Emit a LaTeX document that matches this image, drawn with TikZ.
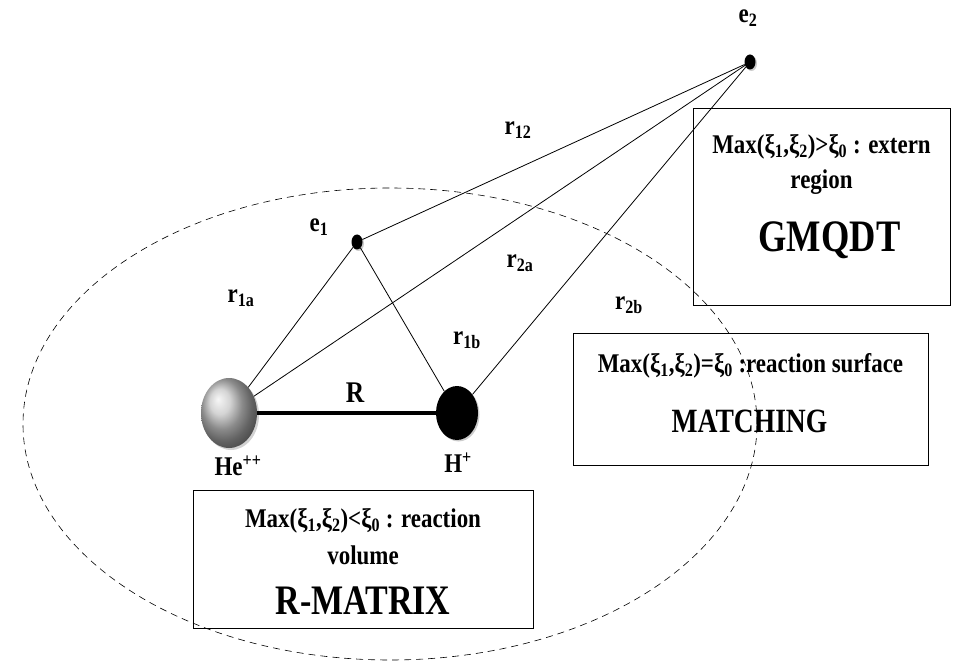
\documentclass[tikz,border=0pt]{standalone}
\usepackage{fontspec}
\setmainfont[FakeStretch=0.85]{Liberation Serif}
\newfontfamily\titlefont[FakeStretch=0.81]{Liberation Serif}
\usetikzlibrary{positioning,calc,shapes.geometric,shadows}

\begin{document}
\begin{tikzpicture}[
  x=1pt, y=-1pt,
  font=\bfseries\fontsize{27}{31}\selectfont,
  lbl/.style={font=\bfseries\fontsize{27}{31}\selectfont, inner sep=0pt},
  title/.style={font=\titlefont\bfseries\fontsize{42}{48}\selectfont, inner sep=0pt},
  region/.style={draw, line width=0.8pt, inner sep=0pt},
  line/.style={line width=0.8pt},
  dot/.style={ellipse, fill=black, inner sep=0pt, minimum width=11pt, minimum height=15pt,
    drop shadow={shadow xshift=1.5pt, shadow yshift=-1.5pt, fill=gray!40, opacity=1}},
]
\useasboundingbox (0,0) rectangle (953,668);

% --- reaction volume boundary ---
\draw[dashed, dash pattern=on 7pt off 5pt, line width=0.6pt] (390,424) ellipse [x radius=367pt, y radius=236pt];

% --- nuclei and electrons ---
\node[ellipse, ball color=gray!45, minimum width=56pt, minimum height=70pt,
  drop shadow={shadow xshift=2pt, shadow yshift=-2pt, fill=gray!35, opacity=1}] (he) at (229,413) {};
\node[dot, minimum width=42pt, minimum height=54pt] (h) at (457,413) {};
\node[dot] (e1) at (357,242) {};
\node[dot] (e2) at (750,62) {};

% --- distances ---
\draw[line width=3.5pt] (he) -- (h);
\draw[line] (he) -- (e1);
\draw[line] (h) -- (e1);
\draw[line] (he) -- (e2);
\draw[line] (h) -- (e2);
\draw[line] (e1) -- (e2);

% --- labels ---
\node[lbl] (le2) at (748,18) {e\textsubscript{2}};
\node[lbl] (le1) at (319,227) {e\textsubscript{1}};
\node[lbl] (lr12) at (518,130) {r\textsubscript{12}};
\node[lbl] (lr1a) at (241,298) {r\textsubscript{1a}};
\node[lbl] (lr2a) at (520,263) {r\textsubscript{2a}};
\node[lbl] (lr1b) at (467,340) {r\textsubscript{1b}};
\node[lbl] (lr2b) at (629,305) {r\textsubscript{2b}};
\node[lbl, font=\bfseries\fontsize{30}{34}\selectfont] (lR) at (355,393) {R};
\node[lbl] (lhe) at (238,466) {He\textsuperscript{++}};
\node[lbl] (lh) at (458,463) {H\textsuperscript{+}};

% --- extern region ---
\node[region, minimum width=257pt, minimum height=197pt] (extern) at (821.5,206.5) {};
\node (ext1) at ($(extern.center)+(0,-60)$) {Max(ξ\textsubscript{1},ξ\textsubscript{2})>ξ\textsubscript{0} : extern};
\node (ext2) at ($(extern.center)+(0,-24)$) {region};
\node[title, font=\titlefont\bfseries\fontsize{45}{50}\selectfont] (gmqdt) at ($(extern.center)+(8,34)$) {GMQDT};

% --- reaction surface ---
\node[region, minimum width=355pt, minimum height=132pt] (surface) at (750.5,399) {};
\node (surf1) at ($(surface.center)+(0,-33)$) {Max(ξ\textsubscript{1},ξ\textsubscript{2})=ξ\textsubscript{0} :reaction surface};
\node[title, font=\titlefont\bfseries\fontsize{34}{40}\selectfont] (matching) at ($(surface.center)+(-1,22)$) {MATCHING};

% --- reaction volume ---
\node[region, minimum width=340pt, minimum height=138pt] (volume) at (363,559) {};
\node (vol1) at ($(volume.center)+(0,-38)$) {Max(ξ\textsubscript{1},ξ\textsubscript{2})<ξ\textsubscript{0} : reaction};
\node (vol2) at ($(volume.center)+(0,-4)$) {volume};
\node[title] (rmatrix) at ($(volume.center)+(0,42)$) {R-MATRIX};

\end{tikzpicture}
\end{document}
